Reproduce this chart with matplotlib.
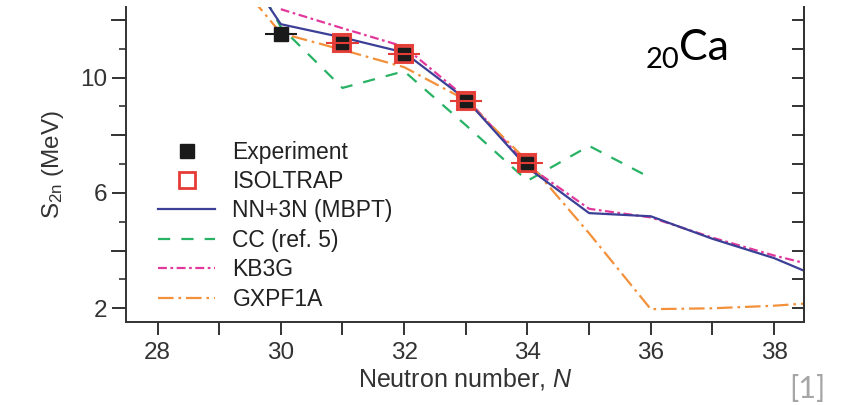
import matplotlib
matplotlib.use("Agg")
import matplotlib.pyplot as plt
from matplotlib.ticker import MultipleLocator, FixedLocator
from matplotlib.lines import Line2D

plt.rcParams['font.family'] = ['Liberation Sans', 'DejaVu Sans']
plt.rcParams['mathtext.default'] = 'regular'
plt.rcParams['mathtext.fontset'] = 'custom'
plt.rcParams['mathtext.rm'] = 'Liberation Sans'
plt.rcParams['mathtext.it'] = 'Liberation Sans:italic'

# ---- data ----
n_exp = [30]
s_exp = [11.50]
exp_err = [0.26]

n_isol = [31, 32, 33, 34]
s_isol = [11.19, 10.82, 9.20, 7.04]
isol_err = [0.26, 0.26, 0.26, 0.26]

n_nn3n = [29, 30, 31, 32, 33, 34, 35, 36, 37, 38, 39]
s_nn3n = [15.05, 11.85, 11.39, 10.87, 9.25, 6.88, 5.30, 5.19, 4.41, 3.74, 2.84]

n_cc = [29, 30, 31, 32, 33, 34, 35, 36]
s_cc = [15.7, 11.75, 9.64, 10.22, 8.35, 6.42, 7.63, 6.52]

n_kb3g = [30, 31, 32, 33, 34, 35, 36, 37, 38, 39]
s_kb3g = [12.37, 11.71, 11.07, 9.30, 6.95, 5.45, 5.15, 4.45, 3.83, 3.30]

n_gx = [29, 30, 31, 32, 33, 34, 35, 36, 37, 38, 39]
s_gx = [14.1, 11.54, 10.96, 10.36, 9.22, 7.10, 4.60, 1.97, 2.00, 2.09, 2.24]

x_ticks = [28, 30, 32, 34, 36, 38]
y_ticks = [2, 6, 10]

c_blue = '#3b3f96'
c_green = '#27b264'
c_mag = '#e2389c'
c_orange = '#f2913a'
c_red = '#e53b35'
c_axis = '#333333'

fig = plt.figure(figsize=(8.46, 4.05), dpi=100)
ax = fig.add_axes([0.149, 0.206, 0.801, 0.777])

lw = 1.6
ax.plot(n_nn3n, s_nn3n, color=c_blue, lw=lw, label='NN+3N (MBPT)', zorder=3)
ax.plot(n_cc, s_cc, color=c_green, lw=lw, dashes=(5.5, 5), label='CC (ref. 5)', zorder=2)
ax.plot(n_kb3g, s_kb3g, color=c_mag, lw=lw, dashes=(4, 1.6, 1.2, 1.6), label='KB3G', zorder=2)
ax.plot(n_gx, s_gx, color=c_orange, lw=lw, dashes=(7, 2.2, 1.2, 2.2), label='GXPF1A', zorder=2)

# experiment
ax.errorbar(n_exp, s_exp, xerr=exp_err, fmt='s', color='#1a1a1a', ms=10,
            elinewidth=1.5, capsize=0, zorder=5)
# ISOLTRAP
ax.plot(n_isol, s_isol, 's', ms=13, mfc=c_red, mec=c_red, mew=1.5, ls='none', zorder=5, alpha=0.95)
ax.plot(n_isol, s_isol, 's', ms=8, color='#1a1a1a', ls='none', zorder=6)
ax.errorbar(n_isol, s_isol, xerr=isol_err, fmt='none', ecolor=c_red,
            elinewidth=1.5, capsize=0, zorder=7)

xlo, xhi = 27.49, 38.48
ax.set_xlim(xlo, xhi)
ax.set_ylim(1.54, 12.45)

ax.xaxis.set_major_locator(FixedLocator(x_ticks))
ax.xaxis.set_minor_locator(MultipleLocator(1))
ax.yaxis.set_major_locator(FixedLocator(y_ticks))
ax.yaxis.set_minor_locator(MultipleLocator(1))
ax.spines['top'].set_visible(False)
for s in ax.spines.values():
    s.set_linewidth(1.4)
    s.set_color(c_axis)

ax.tick_params(axis='x', which='both', direction='out', length=9.5, width=1.4,
               labelsize=17.5, colors=c_axis, pad=5)
ax.tick_params(axis='y', which='major', direction='out', length=10, width=1.4,
               labelsize=17.5, colors=c_axis, pad=3.5)
ax.tick_params(axis='y', which='minor', direction='out', length=5, width=1.2, colors=c_axis)

# extra y ticks (even, unlabeled) on left & inward ticks on right
for yv in [4, 8, 12]:
    ax.plot([xlo - 14 / 61.7, xlo], [yv, yv], color=c_axis, lw=1.4, clip_on=False)
axr = ax.twinx()
axr.set_ylim(ax.get_ylim())
axr.yaxis.set_major_locator(MultipleLocator(1))
axr.tick_params(axis='y', direction='in', length=9, width=1.4, labelright=False, colors=c_axis)
for s in axr.spines.values():
    s.set_visible(False)
axr.spines['right'].set_visible(True)
axr.spines['right'].set_linewidth(1.4)
axr.spines['right'].set_color(c_axis)

ax.set_xlabel('Neutron number, $\\mathit{N}$', fontsize=18, color=c_axis, labelpad=2)
ax.set_ylabel('S$_{2n}$ (MeV)', fontsize=17.5, color=c_axis, labelpad=10)

handles = [
    Line2D([], [], marker='s', color='#1a1a1a', ls='none', ms=10),
    Line2D([], [], marker='s', mfc='white', mec=c_red, mew=2, ls='none', ms=11),
    Line2D([], [], color=c_blue, lw=lw),
    Line2D([], [], color=c_green, lw=lw, dashes=(5.5, 5)),
    Line2D([], [], color=c_mag, lw=lw, dashes=(4, 1.6, 1.2, 1.6)),
    Line2D([], [], color=c_orange, lw=lw, dashes=(7, 2.2, 1.2, 2.2)),
]
labels = ['Experiment', 'ISOLTRAP', 'NN+3N (MBPT)', 'CC (ref. 5)', 'KB3G', 'GXPF1A']
leg = ax.legend(handles, labels, loc='upper left', bbox_to_anchor=(0.047, 0.575),
                frameon=False, fontsize=16.5, handlelength=2.5, handletextpad=0.75,
                labelspacing=0.28, borderaxespad=0, borderpad=0)
for t in leg.get_texts():
    t.set_color('#222222')

fig.text(646 / 846, 1 - 68 / 405, '20', fontsize=21, family='Lato', color='black', va='baseline')
fig.text(679 / 846, 1 - 60 / 405, 'Ca', fontsize=31, family='Lato', color='black', va='baseline')
fig.text(789 / 846, 1 - 398 / 405, '[1]', fontsize=22, family='Lato', color='#a6a6a6', va='baseline')

fig.savefig('out.png', dpi=100)
